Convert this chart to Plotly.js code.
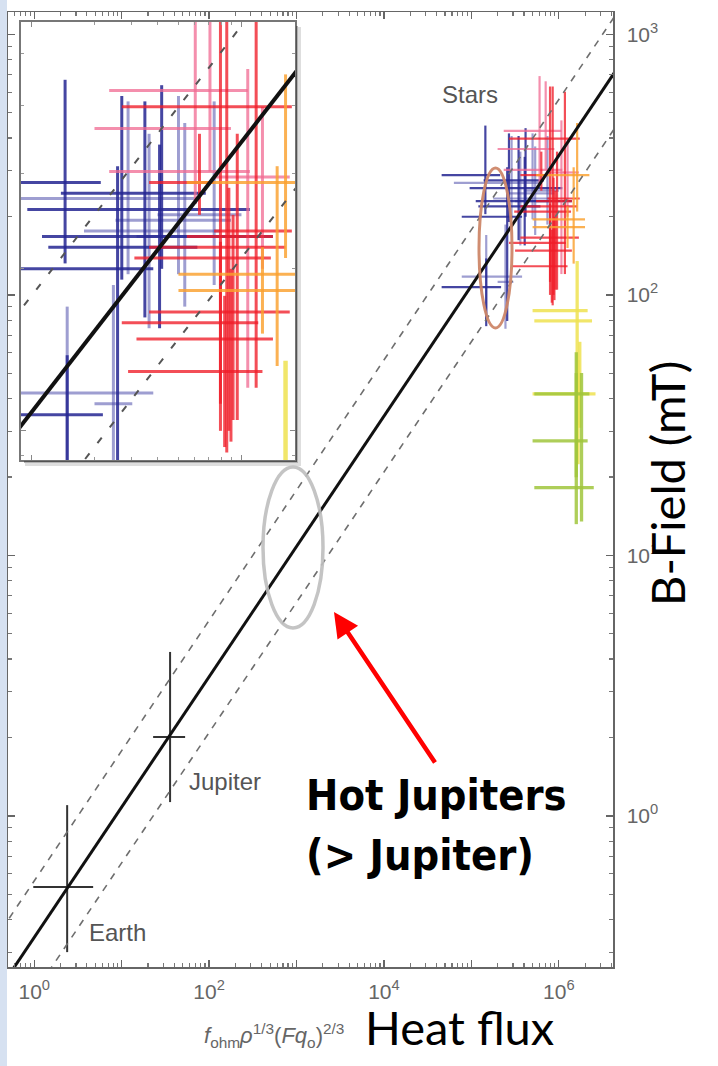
<!DOCTYPE html>
<html>
<head>
<meta charset="utf-8">
<script src="https://cdn.plot.ly/plotly-3.0.1.min.js"></script>
<style>
  html, body { margin: 0; padding: 0; background: #fff; }
  #chart { width: 718px; height: 1066px; }
</style>
</head>
<body>
<div id="chart"></div>
<script>
// Magnetic field strength against the energy-flux scaling quantity
// f_ohm * rho^(1/3) * (F q_o)^(2/3), log-log, with a zoomed inset on the stars.

// ---- stars: values in decades (log10), centre plus error-bar ends ----
const starGroup = [
  'navy', 'slate', 'navy', 'slate', 'navy', 'navy', 'slate', 'navy', 'slate', 'navy', 'navy', 'slate', 'slate', 'slate',
  'pink', 'pink', 'pink', 'pink',
  'red', 'red', 'red', 'red', 'red', 'red', 'red', 'red', 'red', 'red',
  'orange', 'orange', 'orange',
  'yellow', 'yellow', 'yellow',
  'green', 'green', 'green'
];
const starLogFlux   = [5.16, 5.17, 5.17, 5.39, 5.41, 5.43, 5.46, 5.54, 5.56, 5.61, 5.62, 5.70, 5.73, 5.87,
                       5.78, 5.85, 6.03, 6.10,
                       5.90, 5.93, 5.98, 6.07, 5.94, 5.96, 5.90, 5.95, 5.92, 5.80,
                       6.21, 6.17, 6.10,
                       6.21, 6.24, 6.22,
                       6.20, 6.20, 6.26];
const starLogFluxLo = [4.66, 4.89, 4.66, 5.30, 4.89, 5.14, 4.80, 4.98, 5.25, 5.05, 5.08, 5.40, 5.50, 5.60,
                       5.37, 5.30, 5.37, 5.87,
                       5.43, 5.87, 5.74, 5.56, 5.49, 5.56, 5.43, 5.50, 5.46, 5.56,
                       5.74, 5.70, 5.70,
                       5.70, 5.72, 5.70,
                       5.72, 5.70, 5.72];
const starLogFluxHi = [5.33, 5.58, 5.34, 5.48, 5.58, 5.83, 5.80, 6.04, 5.90, 6.15, 5.79, 5.95, 5.90, 6.00,
                       6.03, 5.95, 6.04, 6.23,
                       6.24, 6.24, 6.15, 6.21, 6.14, 6.23, 6.08, 6.15, 6.10, 5.87,
                       6.35, 6.30, 6.30,
                       6.33, 6.38, 6.42,
                       6.35, 6.33, 6.40];
const starLogField   = [2.46, 2.07, 2.03, 2.05, 2.30, 2.44, 2.43, 2.41, 2.37, 2.36, 2.34, 2.39, 2.36, 2.40,
                        2.63, 2.56, 2.48, 2.47,
                        2.60, 2.37, 2.36, 2.34, 2.32, 2.22, 2.20, 2.17, 2.11, 2.46,
                        2.46, 2.29, 2.26,
                        1.94, 1.90, 1.62,
                        1.62, 1.44, 1.26];
const starLogFieldLo = [2.31, 1.90, 1.88, 1.87, 1.90, 2.28, 2.29, 2.21, 2.19, 2.19, 2.30, 2.29, 2.23, 2.27,
                        2.42, 2.48, 2.08, 2.30,
                        2.05, 1.96, 2.02, 2.08, 2.00, 2.02, 2.00, 1.98, 1.97, 2.40,
                        2.32, 2.12, 2.18,
                        1.50, 1.49, 1.35,
                        1.30, 1.12, 1.13];
const starLogFieldHi = [2.65, 2.23, 2.14, 2.27, 2.49, 2.62, 2.61, 2.61, 2.55, 2.53, 2.64, 2.62, 2.57, 2.61,
                        2.84, 2.82, 2.67, 2.60,
                        2.80, 2.80, 2.55, 2.78, 2.45, 2.40, 2.35, 2.30, 2.25, 2.55,
                        2.66, 2.49, 2.34,
                        2.13, 1.82, 1.75,
                        1.70, 1.78, 1.70];

// ---- planets (heat-flux quantity, field in mT) ----
const planetName    = ['Earth', 'Jupiter'];
const planetFlux    = [2.38, 35.8];
const planetFluxLo  = [0.975, 22.9];
const planetFluxHi  = [4.72, 53.2];
const planetField   = [0.533, 2.01];
const planetFieldLo = [0.30, 1.13];
const planetFieldHi = [1.10, 4.26];

// ---- scaling law and its bounds, two end points each ----
const fitFlux    = [0.1, 1e7];
const fitField   = [0.108, 1084];
const upperField = [0.178, 1778];
const lowerField = [0.066, 661];

// ---- axis ticks ----
const xTickVals = [1, 10, 100, 1e3, 1e4, 1e5, 1e6];
const xTickText = ['10<sup>0</sup>', '', '10<sup>2</sup>', '', '10<sup>4</sup>', '', '10<sup>6</sup>'];
const yTickVals = [1, 10, 100, 1000];
const yTickText = ['10<sup>0</sup>', '10<sup>1</sup>', '10<sup>2</sup>', '10<sup>3</sup>'];

// ---- styling ----
const groupStyle = {
  slate:  {color: 'rgba(78,78,172,0.55)'},
  navy:   {color: 'rgba(36,38,146,0.85)'},
  pink:   {color: 'rgba(240,105,145,0.75)'},
  red:    {color: 'rgba(240,28,40,0.78)'},
  orange: {color: 'rgba(250,160,45,0.82)'},
  yellow: {color: 'rgba(238,226,80,0.85)'},
  green:  {color: 'rgba(160,198,60,0.85)'}
};
const groupOrder = ['slate', 'navy', 'pink', 'red', 'orange', 'yellow', 'green'];

const W = 718, H = 1066;
const px = v => v / W;
const py = v => 1 - v / H;
const dec = v => Math.pow(10, v);

function minorTicks(lo, hi) {
  const t = [];
  for (let k = lo; k <= hi; k++) for (let m = 2; m <= 9; m++) t.push(m * Math.pow(10, k));
  return t;
}

// one trace per colour: horizontal and vertical error bar of every star
function starTraces(xa, ya, width) {
  return groupOrder.map(g => {
    const xs = [], ys = [];
    starGroup.forEach((grp, i) => {
      if (grp !== g) return;
      const cx = dec(starLogFlux[i]), cy = dec(starLogField[i]);
      xs.push(dec(starLogFluxLo[i]), dec(starLogFluxHi[i]), null, cx, cx, null);
      ys.push(cy, cy, null, dec(starLogFieldLo[i]), dec(starLogFieldHi[i]), null);
    });
    const w = (g === 'yellow' || g === 'green') ? width * 1.5 : width;
    return {x: xs, y: ys, xaxis: xa, yaxis: ya, type: 'scatter', mode: 'lines',
            line: {color: groupStyle[g].color, width: w}, hoverinfo: 'skip'};
  });
}

function fitTraces(xa, ya, solidW, dashW, dashColor, dash) {
  return [
    {x: fitFlux, y: upperField, xaxis: xa, yaxis: ya, mode: 'lines',
     line: {color: dashColor, width: dashW, dash: dash}, hoverinfo: 'skip'},
    {x: fitFlux, y: lowerField, xaxis: xa, yaxis: ya, mode: 'lines',
     line: {color: dashColor, width: dashW, dash: dash}, hoverinfo: 'skip'},
    {x: fitFlux, y: fitField, xaxis: xa, yaxis: ya, mode: 'lines',
     line: {color: '#111', width: solidW}, hoverinfo: 'skip'}
  ];
}

const planetXs = [], planetYs = [];
planetName.forEach((n, i) => {
  planetXs.push(planetFluxLo[i], planetFluxHi[i], null, planetFlux[i], planetFlux[i], null);
  planetYs.push(planetField[i], planetField[i], null, planetFieldLo[i], planetFieldHi[i], null);
});

const data = [
  ...starTraces('x', 'y', 2.2),
  {x: planetXs, y: planetYs, xaxis: 'x', yaxis: 'y', mode: 'lines',
   line: {color: '#333', width: 2}, hoverinfo: 'skip'},
  ...fitTraces('x', 'y', 3, 1.6, '#6e6e6e', '7px,7px'),
  ...starTraces('x2', 'y2', 3),
  ...fitTraces('x2', 'y2', 4, 2, '#555', '7px,13px')
];

const tickFont = {family: 'Liberation Sans, Arial, sans-serif', size: 21, color: '#666'};
const frame = {showline: true, linecolor: '#666', linewidth: 1.5, showgrid: false, zeroline: false};
const labelFont = {family: 'Liberation Sans, Arial, sans-serif', size: 24, color: '#555'};
const bigFont = {family: 'Lato, sans-serif', size: 47, color: '#000'};
const boldFont = {family: 'Liberation Sans Narrow, Arial Narrow, DejaVu Sans Condensed, sans-serif', size: 43, color: '#000'};

const layout = {
  width: W, height: H,
  margin: {l: 0, r: 0, t: 0, b: 0},
  paper_bgcolor: '#fff', plot_bgcolor: '#fff',
  showlegend: false,
  xaxis: Object.assign({}, frame, {
    type: 'log', range: [-0.30, 6.62], domain: [px(8), px(613)], anchor: 'y', side: 'bottom',
    tickmode: 'array', tickvals: xTickVals, ticktext: xTickText,
    ticks: 'inside', ticklen: 7, tickwidth: 1.2, tickcolor: '#666', mirror: 'ticks',
    tickfont: tickFont, ticklabelstandoff: 5,
    minor: {tickmode: 'array', tickvals: minorTicks(-1, 6), ticks: 'inside', ticklen: 4,
            tickcolor: '#777', showgrid: false}
  }),
  yaxis: Object.assign({}, frame, {
    type: 'log', range: [-0.58, 3.086], domain: [py(967), py(12)], anchor: 'x', side: 'right',
    tickmode: 'array', tickvals: yTickVals, ticktext: yTickText,
    ticks: 'inside', ticklen: 7, tickwidth: 1.2, tickcolor: '#666', mirror: 'ticks',
    tickfont: tickFont, ticklabelstandoff: 8,
    minor: {tickmode: 'array', tickvals: minorTicks(-1, 3), ticks: 'inside', ticklen: 4,
            tickcolor: '#777', showgrid: false}
  }),
  xaxis2: {
    type: 'log', range: [4.95, 6.255], domain: [px(21), px(295)], anchor: 'y2',
    showline: true, mirror: 'ticks', linecolor: '#777', linewidth: 2, showgrid: false, zeroline: false,
    tickmode: 'array', tickvals: [1e5, 1e6], ticks: 'inside', ticklen: 5, tickcolor: '#888',
    showticklabels: false,
    minor: {tickmode: 'array', tickvals: minorTicks(4, 6), ticks: 'inside', ticklen: 3, tickcolor: '#999'}
  },
  yaxis2: {
    type: 'log', range: [1.946, 2.757], domain: [py(460), py(22)], anchor: 'x2',
    showline: true, mirror: 'ticks', linecolor: '#777', linewidth: 2, showgrid: false, zeroline: false,
    tickmode: 'array', tickvals: [100], ticks: 'inside', ticklen: 5, tickcolor: '#888',
    showticklabels: false,
    minor: {tickmode: 'array', tickvals: minorTicks(1, 2), ticks: 'inside', ticklen: 3, tickcolor: '#999'}
  },
  shapes: [
    // window edge strip
    {type: 'rect', xref: 'paper', yref: 'paper', x0: 0, x1: px(7), y0: 0, y1: 1,
     fillcolor: '#d6e1f1', line: {width: 0}, layer: 'below'},
    // drop shadow of the inset
    {type: 'rect', xref: 'paper', yref: 'paper', x0: px(296), x1: px(298), y0: py(463), y1: py(26),
     fillcolor: 'rgba(0,0,0,0.30)', line: {width: 0}},
    {type: 'rect', xref: 'paper', yref: 'paper', x0: px(298), x1: px(301), y0: py(466), y1: py(27),
     fillcolor: 'rgba(0,0,0,0.13)', line: {width: 0}},
    {type: 'rect', xref: 'paper', yref: 'paper', x0: px(24), x1: px(296), y0: py(463), y1: py(461),
     fillcolor: 'rgba(0,0,0,0.30)', line: {width: 0}},
    {type: 'rect', xref: 'paper', yref: 'paper', x0: px(25), x1: px(298), y0: py(466), y1: py(463),
     fillcolor: 'rgba(0,0,0,0.13)', line: {width: 0}},
    // highlighted groups
    {type: 'circle', xref: 'paper', yref: 'paper', x0: px(479), x1: px(512), y0: py(328), y1: py(168),
     line: {color: 'rgba(205,135,105,0.95)', width: 3}},
    {type: 'circle', xref: 'paper', yref: 'paper', x0: px(263), x1: px(323), y0: py(628), y1: py(467),
     line: {color: 'rgba(190,190,190,0.9)', width: 3.5}}
  ],
  annotations: [
    {xref: 'paper', yref: 'paper', x: px(470), y: py(95), xanchor: 'center', yanchor: 'middle',
     text: 'Stars', showarrow: false, font: labelFont},
    ...planetName.map((n, i) => ({
      xref: 'x', yref: 'y', x: Math.log10(planetFlux[i]), y: Math.log10(planetField[i]),
      text: n, showarrow: false, xanchor: 'left', yanchor: 'middle',
      xshift: i === 0 ? 20 : 17, yshift: -45, font: labelFont
    })),
    {xref: 'paper', yref: 'paper', x: px(202), y: py(1035), xanchor: 'left', yanchor: 'middle', showarrow: false,
     text: '<i>f</i><sub>ohm</sub><i>ρ</i><sup>1/3</sup>(<i>Fq</i><sub>o</sub>)<sup>2/3</sup>',
     font: {family: 'Liberation Sans, Arial, sans-serif', size: 22, color: '#666'}},
    {xref: 'paper', yref: 'paper', x: px(363), y: py(1027), xanchor: 'left', yanchor: 'middle', showarrow: false,
     text: 'Heat flux', font: bigFont},
    {xref: 'paper', yref: 'paper', x: px(667), y: py(484), xanchor: 'center', yanchor: 'middle',
     showarrow: false, textangle: -90, text: 'B-Field (mT)', font: bigFont},
    {xref: 'paper', yref: 'paper', x: px(304), y: py(795), xanchor: 'left', yanchor: 'middle', showarrow: false,
     text: '<b>Hot Jupiters</b>', font: boldFont},
    {xref: 'paper', yref: 'paper', x: px(304), y: py(855), xanchor: 'left', yanchor: 'middle', showarrow: false,
     text: '<b>(> Jupiter)</b>', font: boldFont},
    {xref: 'paper', yref: 'paper', x: px(334), y: py(612), text: '', showarrow: true,
     axref: 'pixel', ayref: 'pixel', ax: 102, ay: 152,
     arrowhead: 2, arrowsize: 1.1, arrowwidth: 4.5, arrowcolor: '#ff0000'}
  ]
};

Plotly.newPlot('chart', data, layout, {staticPlot: true, displayModeBar: false});
</script>
</body>
</html>
